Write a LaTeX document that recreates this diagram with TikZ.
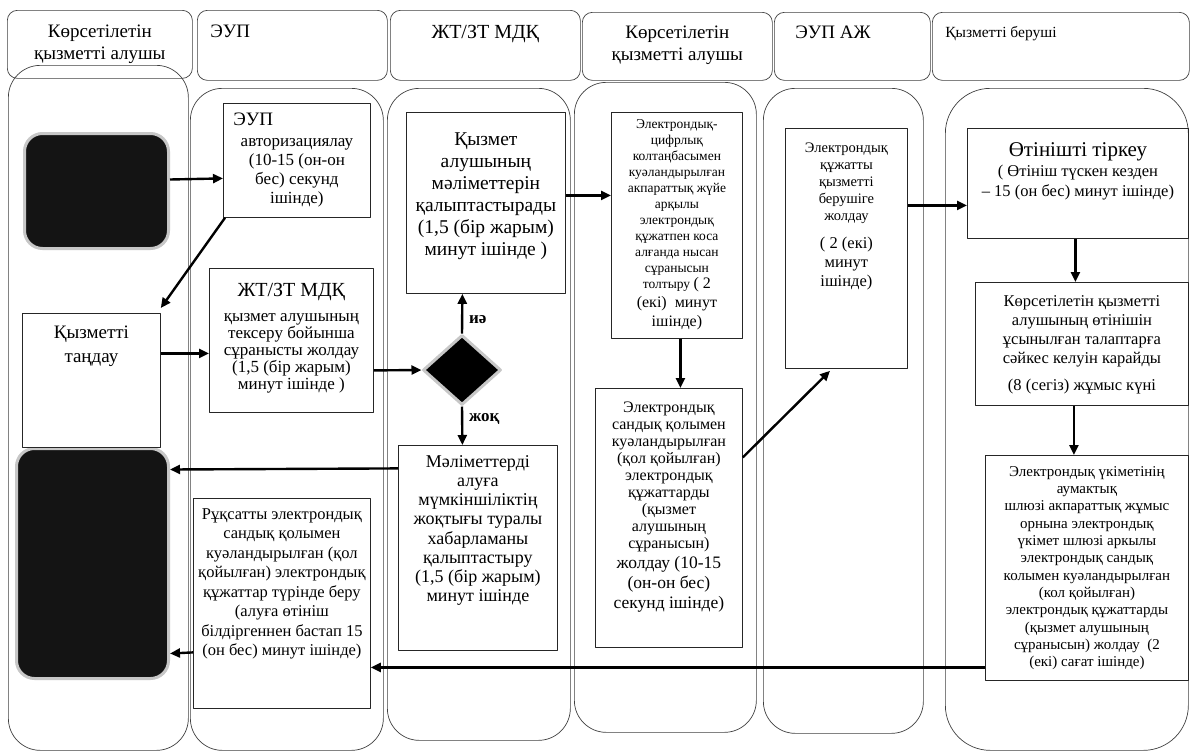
\documentclass[tikz,border=0pt]{standalone}
\usepackage{fontspec}
\setmainfont{Liberation Serif}
\usetikzlibrary{arrows.meta,shapes.geometric}
\newcommand{\fs}[2]{\fontsize{#1pt}{#2pt}\selectfont}
\newcommand{\tb}[4]{\parbox[c][#2pt][t]{#1pt}{\centering\vspace*{#3pt}#4\par}}
\newcommand{\tbl}[5]{\parbox[c][#2pt][t]{#1pt}{\raggedright\vspace*{#3pt}\hspace*{#4pt}#5\par}}
\begin{document}
\begin{tikzpicture}[x=1pt,y=-1pt,line join=round,
  lane/.style={draw=black!75,line width=0.7pt,rounded corners=32pt,inner sep=0pt,anchor=north west},
  hdr/.style={draw=black!75,line width=0.7pt,rounded corners=10pt,inner sep=0pt,anchor=north west},
  box/.style={draw=black!85,line width=0.8pt,inner sep=0pt,anchor=north west},
  blk/.style={fill=black!92,draw=black!22,line width=3pt,rounded corners=18pt,inner sep=0pt,anchor=north west},
  arr/.style={-{Triangle[length=10pt,width=9pt]},line width=2.4pt},
  lbl/.style={font=\bfseries\fs{17}{17},inner sep=0pt,anchor=west}]
\fill[white] (0,0) rectangle (1190,753);
\useasboundingbox (0,0) rectangle (1190,753);
% lanes
\node[lane,minimum width=180pt,minimum height=685pt] (lane1) at (8,65) {};
\node[lane,minimum width=193pt,minimum height=662pt] (lane2) at (190,88) {};
\node[lane,minimum width=183pt,minimum height=652pt] (lane3) at (387,88) {};
\node[lane,minimum width=182pt,minimum height=650pt] (lane4) at (574,82) {};
\node[lane,minimum width=160pt,minimum height=645pt] (lane5) at (763,88) {};
\node[lane,rounded corners=45pt,minimum width=243pt,minimum height=662pt] (lane6) at (945,88) {};
% headers
\node[hdr] (h1) at (7,10) {\tb{185}{68}{15}{\fs{19}{22}Көрсетілетін\\қызметті алушы}};
\node[hdr] (h2) at (197,10) {\tbl{190}{70}{15}{13}{\fs{19}{22}ЭУП}};
\node[hdr] (h3) at (390,10) {\tb{190}{70}{15}{\fs{20}{22}ЖТ/ЗТ МДҚ}};
\node[hdr] (h4) at (582,12) {\tb{190}{68}{13.5}{\fs{19}{22}Көрсетілетін\\қызметті алушы}};
\node[hdr] (h5) at (774,12) {\tbl{156}{68}{13.5}{21}{\fs{19}{22}ЭУП АЖ}};
\node[hdr] (h6) at (932,12) {\tbl{257}{68}{14}{13}{\fs{15.5}{18}Қызметті беруші}};
% black terminals
\node[blk,minimum width=144pt,minimum height=115pt] (blk1) at (23,132) {};
\node[blk,minimum width=152pt,minimum height=230pt] (blk2) at (15,447) {};
\node[diamond,fill=black,draw=black!22,line width=3pt,minimum width=78pt,minimum height=70pt,inner sep=0pt] (dia) at (462,370) {};
% boxes
\node[box] (eup) at (223,103) {\tb{147}{114}{10}{\fs{19}{22}\makebox[\linewidth][l]{\hspace*{10pt}ЭУП}\par\vspace{2pt}\fs{17}{19}авторизациялау\\(10-15 (он-он\\бес) секунд\\ішінде)}};
\node[box] (tand) at (22,313) {\tb{138}{134}{13}{\fs{19}{24}Қызметті\\таңдау}};
\node[box] (jt) at (209,268) {\tb{164}{144}{15}{\fs{20}{22}ЖТ/ЗТ МДҚ\par\vspace{8pt}\fs{17}{17}қызмет алушының\\тексеру бойынша\\сұранысты жолдау\\(1,5 (бір жарым)\\минут ішінде )}};
\node[box] (qyz) at (406,112) {\tb{159}{181}{20}{\fs{19.5}{22}Қызмет\\алушының\\мәліметтерін\\қалыптастырады\\(1,5 (бір жарым)\\минут ішінде )}};
\node[box] (ecp) at (611,112) {\tb{131}{226}{7}{\fs{13.5}{16}Электрондық-\\цифрлық\\колтаңбасымен\\куәландырылған\\акпараттық жүйе\\арқылы\\электрондық\\құжатпен коса\\алғанда нысан\\сұранысын\\толтыру {\fs{16}{16}( 2}\par\fs{16}{19}(екі)~~минут\\ішінде)}};
\node[box] (esq) at (595,388) {\tb{147}{259}{13}{\fs{16}{17}Электрондық\\сандық қолымен\\куәландырылған\\(қол қойылған)\\электрондық\\құжаттарды\\(қызмет\\алушының\\сұранысын)\par\fs{17.5}{20}жолдау (10-15\\(он-он бес)\\секунд ішінде)}};
\node[box] (mal) at (398,445) {\tb{159}{205}{10}{\fs{18}{19.2}Мәліметтерді\\алуға\\мүмкіншіліктің\\жоқтығы туралы\\хабарламаны\\қалыптастыру\\(1,5 (бір жарым)\\минут ішінде}};
\node[box] (equj) at (785,128) {\tb{122}{240}{14}{\fs{14.5}{17}Электрондық\\құжатты\\қызметті\\берушіге\\жолдау\par\vspace{9pt}\fs{16.5}{19}( 2 (екі)\\минут\\ішінде)}};
\node[box] (otin) at (967,128) {\tb{221}{110}{14}{\fs{21}{22}Өтінішті тіркеу\par\fs{16.5}{20}( Өтініш түскен кезден\\– 15 (он бес) минут ішінде)}};
\node[box] (kors) at (975,282) {\tb{213}{123}{13}{\fs{16.5}{19}Көрсетілетін қызметті\\алушының өтінішін\\ұсынылған талаптарға\\сәйкес келуін карайды\par\vspace{8pt}(8 (сегіз) жұмыс күні}};
\node[box] (euk) at (985,455) {\tb{203}{225}{11}{\fs{15}{17.3}Электрондық үкіметінің\\аумактық\\шлюзі акпараттық жұмыс\\орнына электрондық\\үкімет шлюзі аркылы\\электрондық сандық\\колымен куәландырылған\\(кол қойылған)\\электрондық құжаттарды\\(қызмет алушының\\сұранысын) жолдау~~(2\\(екі) сағат ішінде)}};
\node[box] (ruk) at (193,498) {\tb{177}{210}{10}{\fs{16.5}{19.5}Рұқсатты электрондық\\сандық қолымен\\куәландырылған (қол\\қойылған) электрондық\\құжаттар түрінде беру\\(алуға өтініш\\білдіргеннен бастап 15\\(он бес) минут ішінде)}};
% labels
\node[lbl] (yes) at (469,320) {иә};
\node[lbl] (no) at (469,419) {жоқ};
% connectors
\draw[arr] ([yshift=11.5pt]blk1.east) -- ([yshift=-18pt]eup.west);
\draw[arr] ([xshift=2pt]eup.south west) -- ([yshift=5pt]tand.north east);
\draw[arr] ([yshift=27pt]tand.east) -- ([yshift=-13pt]jt.west);
\draw[arr] ([yshift=-30pt]jt.east) -- (dia.west);
\draw[arr] (dia.north) -- ([xshift=-23.5pt]qyz.south);
\draw[arr] (dia.south) -- ([xshift=-15.5pt]mal.north);
\draw[arr] ([yshift=7.5pt]qyz.east) -- ([yshift=30pt]ecp.west);
\draw[arr] ([xshift=3.5pt]ecp.south) -- ([xshift=11.5pt]esq.north);
\draw[arr] ([yshift=60.5pt]esq.east) -- ([xshift=45pt,yshift=-2pt]equj.south west);
\draw[arr] ([yshift=43pt]equj.east) -- ([yshift=-22pt]otin.west);
\draw[arr] ([xshift=-2.5pt]otin.south) -- ([xshift=-6.5pt]kors.north);
\draw[arr] ([xshift=-8pt]kors.south) -- ([xshift=-13pt]euk.north);
\draw[arr] ([yshift=-99.5pt]euk.west) -- ([yshift=-64pt]ruk.east);
\draw[arr] ([yshift=79.5pt]mal.west) -- ([yshift=94pt]blk2.east);
\draw[arr] ([yshift=-49pt]ruk.west) -- ([yshift=-90pt]blk2.east);
\end{tikzpicture}
\end{document}
